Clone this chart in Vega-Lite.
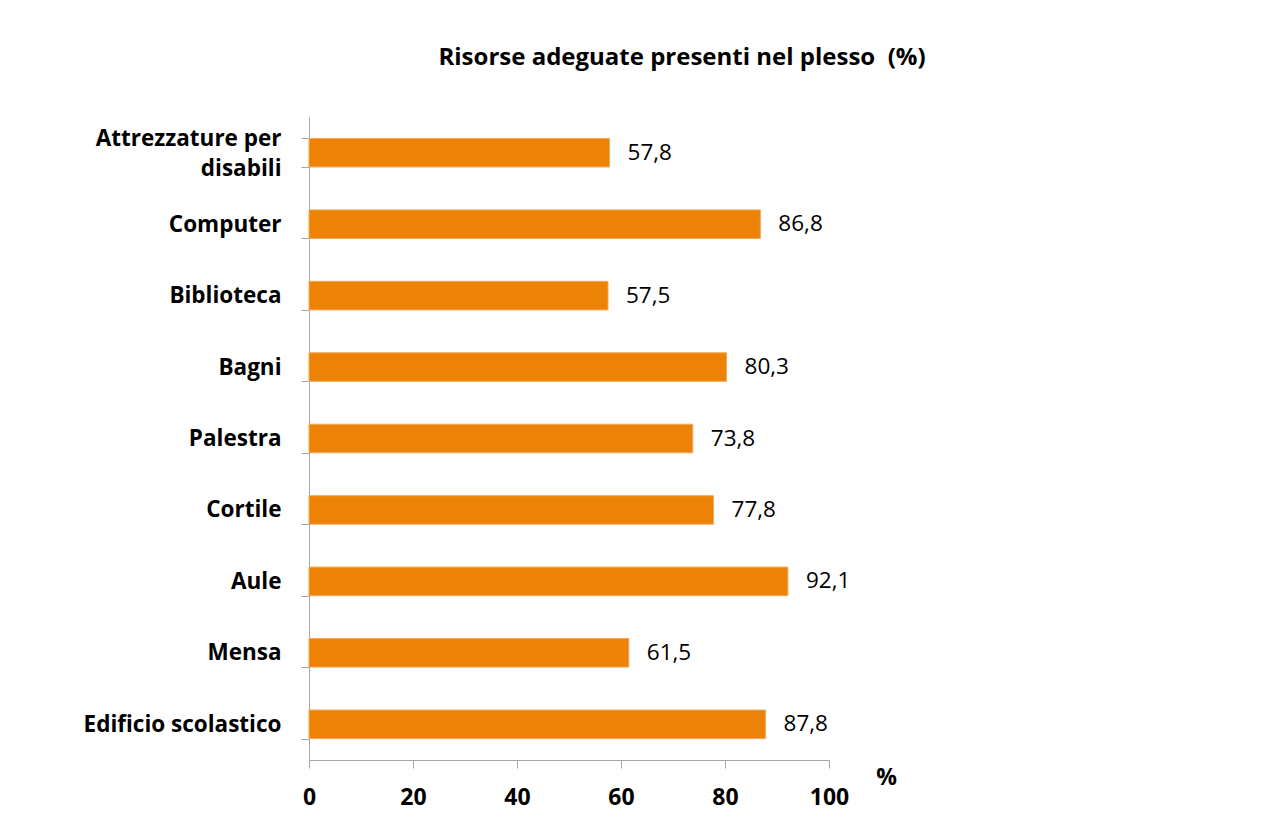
{
  "$schema": "https://vega.github.io/schema/vega-lite/v6.json",
  "width": 520,
  "height": 643,
  "autosize": {"type": "none"},
  "padding": {"left": 309, "top": 117, "right": 445, "bottom": 68},
  "background": "white",
  "title": {
    "text": "Risorse adeguate presenti nel plesso\u00a0 (%)",
    "font": "Open Sans",
    "fontSize": 24,
    "fontWeight": "bold",
    "color": "#000000",
    "anchor": "middle",
    "dx": 113,
    "offset": 36
  },
  "data": {
    "values": [
      {"risorsa": "Attrezzature per disabili", "valore": 57.8},
      {"risorsa": "Computer", "valore": 86.8},
      {"risorsa": "Biblioteca", "valore": 57.5},
      {"risorsa": "Bagni", "valore": 80.3},
      {"risorsa": "Palestra", "valore": 73.8},
      {"risorsa": "Cortile", "valore": 77.8},
      {"risorsa": "Aule", "valore": 92.1},
      {"risorsa": "Mensa", "valore": 61.5},
      {"risorsa": "Edificio scolastico", "valore": 87.8}
    ]
  },
  "encoding": {
    "y": {
      "field": "risorsa",
      "type": "nominal",
      "sort": null,
      "scale": {"paddingInner": 0.6, "paddingOuter": 0.3},
      "axis": {
        "title": null,
        "tickBand": "extent",
        "tickSize": 8,
        "tickColor": "#A6A6A6",
        "domainColor": "#A6A6A6",
        "labelFont": "Open Sans",
        "labelFontSize": 22.5,
        "labelFontWeight": "bold",
        "labelColor": "#000000",
        "labelPadding": 20,
        "labelLineHeight": 30,
        "labelLimit": 400,
        "labelOffset": {"condition": {"test": "datum.value == 'Attrezzature per disabili'", "value": -14}, "value": 0},
        "labelExpr": "datum.value == 'Attrezzature per disabili' ? ['Attrezzature per', 'disabili'] : datum.value"
      }
    },
    "x": {
      "field": "valore",
      "type": "quantitative",
      "scale": {"domain": [0, 100], "nice": false},
      "axis": {
        "values": [0, 20, 40, 60, 80, 100],
        "grid": false,
        "tickSize": 8,
        "tickColor": "#A6A6A6",
        "domainColor": "#A6A6A6",
        "labelFlush": false,
        "labelFont": "Open Sans",
        "labelFontSize": 23,
        "labelFontWeight": "bold",
        "labelColor": "#000000",
        "labelPadding": 18,
        "title": "%",
        "titleFont": "Open Sans",
        "titleFontSize": 23,
        "titleFontWeight": "bold",
        "titleColor": "#000000",
        "titleAngle": 0,
        "titleAlign": "center",
        "titleBaseline": "middle",
        "titleX": 577,
        "titleY": 17
      }
    }
  },
  "layer": [
    {
      "mark": {"type": "bar", "color": "#EC8307", "stroke": "#F3A95C", "strokeWidth": 1}
    },
    {
      "mark": {"type": "text", "align": "left", "baseline": "middle", "dx": 18, "font": "Open Sans", "fontSize": 22.5, "color": "#000000"},
      "encoding": {
        "text": {"field": "valore", "type": "quantitative", "format": ".1f"}
      }
    }
  ],
  "config": {
    "view": {"stroke": null},
    "locale": {
      "number": {"decimal": ",", "thousands": ".", "grouping": [3], "currency": ["€", ""]}
    }
  }
}
